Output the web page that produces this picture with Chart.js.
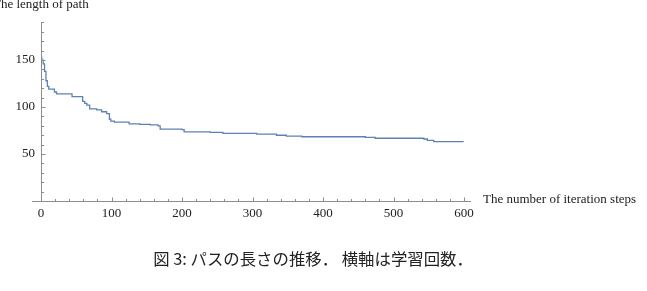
<!DOCTYPE html>
<html>
<head>
  <meta charset="UTF-8">
  <title>Path length</title>
  <script src="https://cdn.jsdelivr.net/npm/chart.js@4.4.0/dist/chart.umd.min.js"></script>
  <style>
    html, body { margin: 0; padding: 0; background: #fff; }
  </style>
</head>
<body>
<canvas id="chart" width="647" height="291"></canvas>
<script>
// iteration step where the path length changes, and the new length
const steps = [0, 1, 3, 5, 7, 9, 11, 19, 22, 44, 59, 62, 65, 69, 79, 86, 93, 97, 99, 104,
  125, 140, 155, 166, 169, 200, 203, 240, 258, 306, 334, 348, 370, 460, 474, 543, 548, 557, 599]
const pathLength = [153, 150, 146, 138, 128, 122, 119, 116, 114, 111, 106, 104, 102, 98, 97, 95, 93, 87, 85, 84,
  82, 81.5, 81, 80, 76.5, 76, 73.5, 73, 72, 71.2, 70, 69, 68.4, 67.8, 66.8, 66, 64.5, 63.2, 63]

const xTicks = [0, 100, 200, 300, 400, 500, 600]
const yTicks = [50, 100, 150]

const xTitle = 'The number of iteration steps'
const yTitle = 'The length of path'
const caption = '図 3: パスの長さの推移． 横軸は学習回数．'

const axisColor = '#8c8c8c'
const textColor = '#222'
const serif = '"Liberation Serif", "Times New Roman", serif'

// Mathematica style: y axis through x = 0, small tick marks pointing inwards, labels
const axisMarks = {
  id: 'axisMarks',
  afterDraw(chart) {
    const ctx = chart.ctx
    const x = chart.scales.x, y = chart.scales.y
    const x0 = Math.round(x.getPixelForValue(0)) + 0.5
    const y0 = Math.round(y.getPixelForValue(0)) + 0.5
    ctx.save()
    ctx.strokeStyle = axisColor
    ctx.lineWidth = 1
    ctx.beginPath()
    ctx.moveTo(x0, chart.chartArea.top)
    ctx.lineTo(x0, y0)
    for (let v = 0; v <= 600; v += 20) {
      let px = Math.round(x.getPixelForValue(v)) + 0.5
      let len = v % 100 === 0 ? 4 : 2.5
      ctx.moveTo(px, y0)
      ctx.lineTo(px, y0 - len)
    }
    for (let v = 10; v <= 190; v += 10) {
      let py = Math.round(y.getPixelForValue(v)) + 0.5
      let len = v % 50 === 0 ? 4 : 2.5
      ctx.moveTo(x0, py)
      ctx.lineTo(x0 + len, py)
    }
    ctx.stroke()

    ctx.fillStyle = textColor
    ctx.font = '13px ' + serif
    ctx.textBaseline = 'alphabetic'
    ctx.fillText(yTitle, -7, 8)
    ctx.fillText(xTitle, 483, 203)

    ctx.font = '16.4px "Noto Sans CJK JP"'
    ctx.textAlign = 'center'
    ctx.fillText(caption, 313, 265)
    ctx.restore()
  }
}

let ctx = document.getElementById('chart').getContext('2d')
let chart = new Chart(ctx, {
  type: 'line',
  data: {
    datasets: [{
      data: steps.map((s, i) => ({ x: s, y: pathLength[i] })),
      stepped: true,
      borderColor: '#5e81b5',
      borderWidth: 1.3,
      pointRadius: 0,
      fill: false
    }]
  },
  options: {
    responsive: false,
    animation: false,
    devicePixelRatio: 1,
    layout: { padding: { left: 0, right: 177, top: 22, bottom: 60 } },
    plugins: {
      legend: { display: false },
      tooltip: { enabled: false }
    },
    scales: {
      x: {
        type: 'linear',
        min: -12.8,
        max: 608.5,
        position: 'bottom',
        afterBuildTicks: s => { s.ticks = xTicks.map(v => ({ value: v })) },
        afterFit: s => { s.height = 30 },
        grid: { display: false },
        border: { color: axisColor, width: 1 },
        ticks: {
          color: textColor,
          font: { family: serif, size: 13 },
          padding: -3,
          maxRotation: 0,
          autoSkip: false
        }
      },
      y: {
        type: 'linear',
        min: 0,
        max: 190.5,
        position: 'left',
        afterBuildTicks: s => { s.ticks = yTicks.map(v => ({ value: v })) },
        afterFit: s => { s.width = 32 },
        grid: { display: false },
        border: { display: false },
        ticks: {
          color: textColor,
          font: { family: serif, size: 13 },
          mirror: true,
          crossAlign: 'far',
          padding: -16.5
        }
      }
    }
  },
  plugins: [axisMarks]
})
</script>
</body>
</html>
